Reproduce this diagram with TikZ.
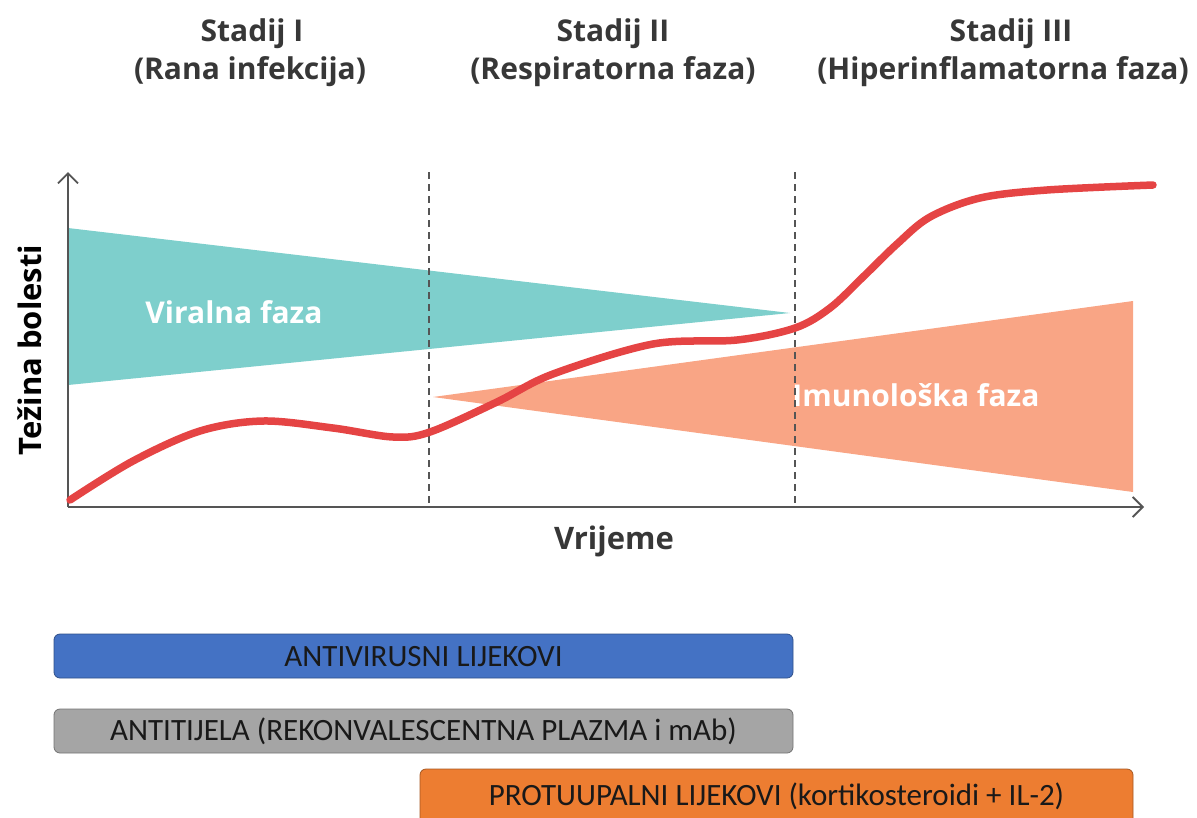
\documentclass[tikz,border=0pt]{standalone}
\usepackage{fontspec}
\setmainfont{Open Sans}
\newfontfamily\barfont{Carlito}
\usetikzlibrary{arrows.meta}
\definecolor{teal1}{RGB}{126,207,204}
\definecolor{salmon1}{RGB}{249,165,133}
\definecolor{red1}{RGB}{229,68,68}
\definecolor{axisgray}{RGB}{85,85,85}
\definecolor{txtgray}{RGB}{55,55,55}
\definecolor{blue1}{RGB}{68,114,196}
\definecolor{gray1}{RGB}{165,165,165}
\definecolor{orange1}{RGB}{237,125,49}
\tikzset{
  stagetxt/.style={font=\bfseries\fontsize{30}{36}\selectfont, text=txtgray, anchor=base, inner sep=0pt},
  phasetxt/.style={font=\bfseries\fontsize{30}{36}\selectfont, text=white},
  axislbl/.style={font=\bfseries\fontsize{31}{36}\selectfont},
  axisline/.style={draw=axisgray, line width=1.8pt, -{Straight Barb[length=10pt,width=20pt,line width=1.8pt]}},
  divider/.style={draw=axisgray, line width=1.3pt, dash pattern=on 7pt off 5pt},
  barbox/.style={rounded corners=6pt, line width=0.8pt, font=\barfont\fontsize{31}{36}\selectfont, text=black!90}
}
\begin{document}
\begin{tikzpicture}[x=1pt,y=-1pt]
\useasboundingbox (0,0) rectangle (1197,817);
\clip (0,0) rectangle (1197,817);
% stage titles
\node[stagetxt] (s1a) at (252,41) {Stadij I};
\node[stagetxt] (s1b) at (250,79) {(Rana infekcija)};
\node[stagetxt] (s2a) at (613,41) {Stadij II};
\node[stagetxt] (s2b) at (613,79) {(Respiratorna faza)};
\node[stagetxt] (s3a) at (1011,41) {Stadij III};
\node[stagetxt] (s3b) at (1003,79) {(Hiperinflamatorna faza)};
% phases
\fill[teal1] (68,228) -- (790,313) -- (68,385) -- cycle;
\fill[salmon1] (433,397) -- (1133,301) -- (1133,492) -- cycle;
\node[phasetxt] (vf) at (234,312) {Viralna faza};
\node[phasetxt] (imf) at (916,395) {Imunološka faza};
% dividers
\coordinate (d1t) at (429,172); \coordinate (d1b) at (429,506);
\coordinate (d2t) at (795,172); \coordinate (d2b) at (795,506);
\draw[divider] (d1t) -- (d1b);
\draw[divider] (d2t) -- (d2b);
% axes
\coordinate (o) at (68,507);
\coordinate (ytop) at (68,172);
\coordinate (xend) at (1144,507);
\draw[axisline] (o) -- (ytop);
\draw[axisline] (o) -- (xend);
% curve
\draw[red1, line width=7.5pt, line cap=round] plot[smooth, tension=0.55] coordinates {
 (70,500) (133,461) (200,431) (263,421) (333,428) (393,437) (430,432) (497,402) (553,374)
 (653,344) (737,340) (795,328) (830,308) (863,277) (897,244) (930,217) (980,198)
 (1047,190) (1153,185)};
% axis labels
\node[axislbl, rotate=90, text=black] (yl) at (30,350) {Težina bolesti};
\node[axislbl, text=txtgray] (xl) at (614,541) {Vrijeme};
% bars
\draw[barbox, fill=blue1, draw=blue1!70!black] (54,634) rectangle (793,678);
\node[barbox] (b1) at (423.5,657) {ANTIVIRUSNI LIJEKOVI};
\draw[barbox, fill=gray1, draw=gray1!70!black] (54,709) rectangle (793,753);
\node[barbox] (b2) at (423.5,731) {ANTITIJELA (REKONVALESCENTNA PLAZMA i mAb)};
\draw[barbox, fill=orange1, draw=orange1!70!black] (420,769) rectangle (1133,826);
\node[barbox] (b3) at (776.5,796) {PROTUUPALNI LIJEKOVI (kortikosteroidi + IL-2)};
\end{tikzpicture}
\end{document}
